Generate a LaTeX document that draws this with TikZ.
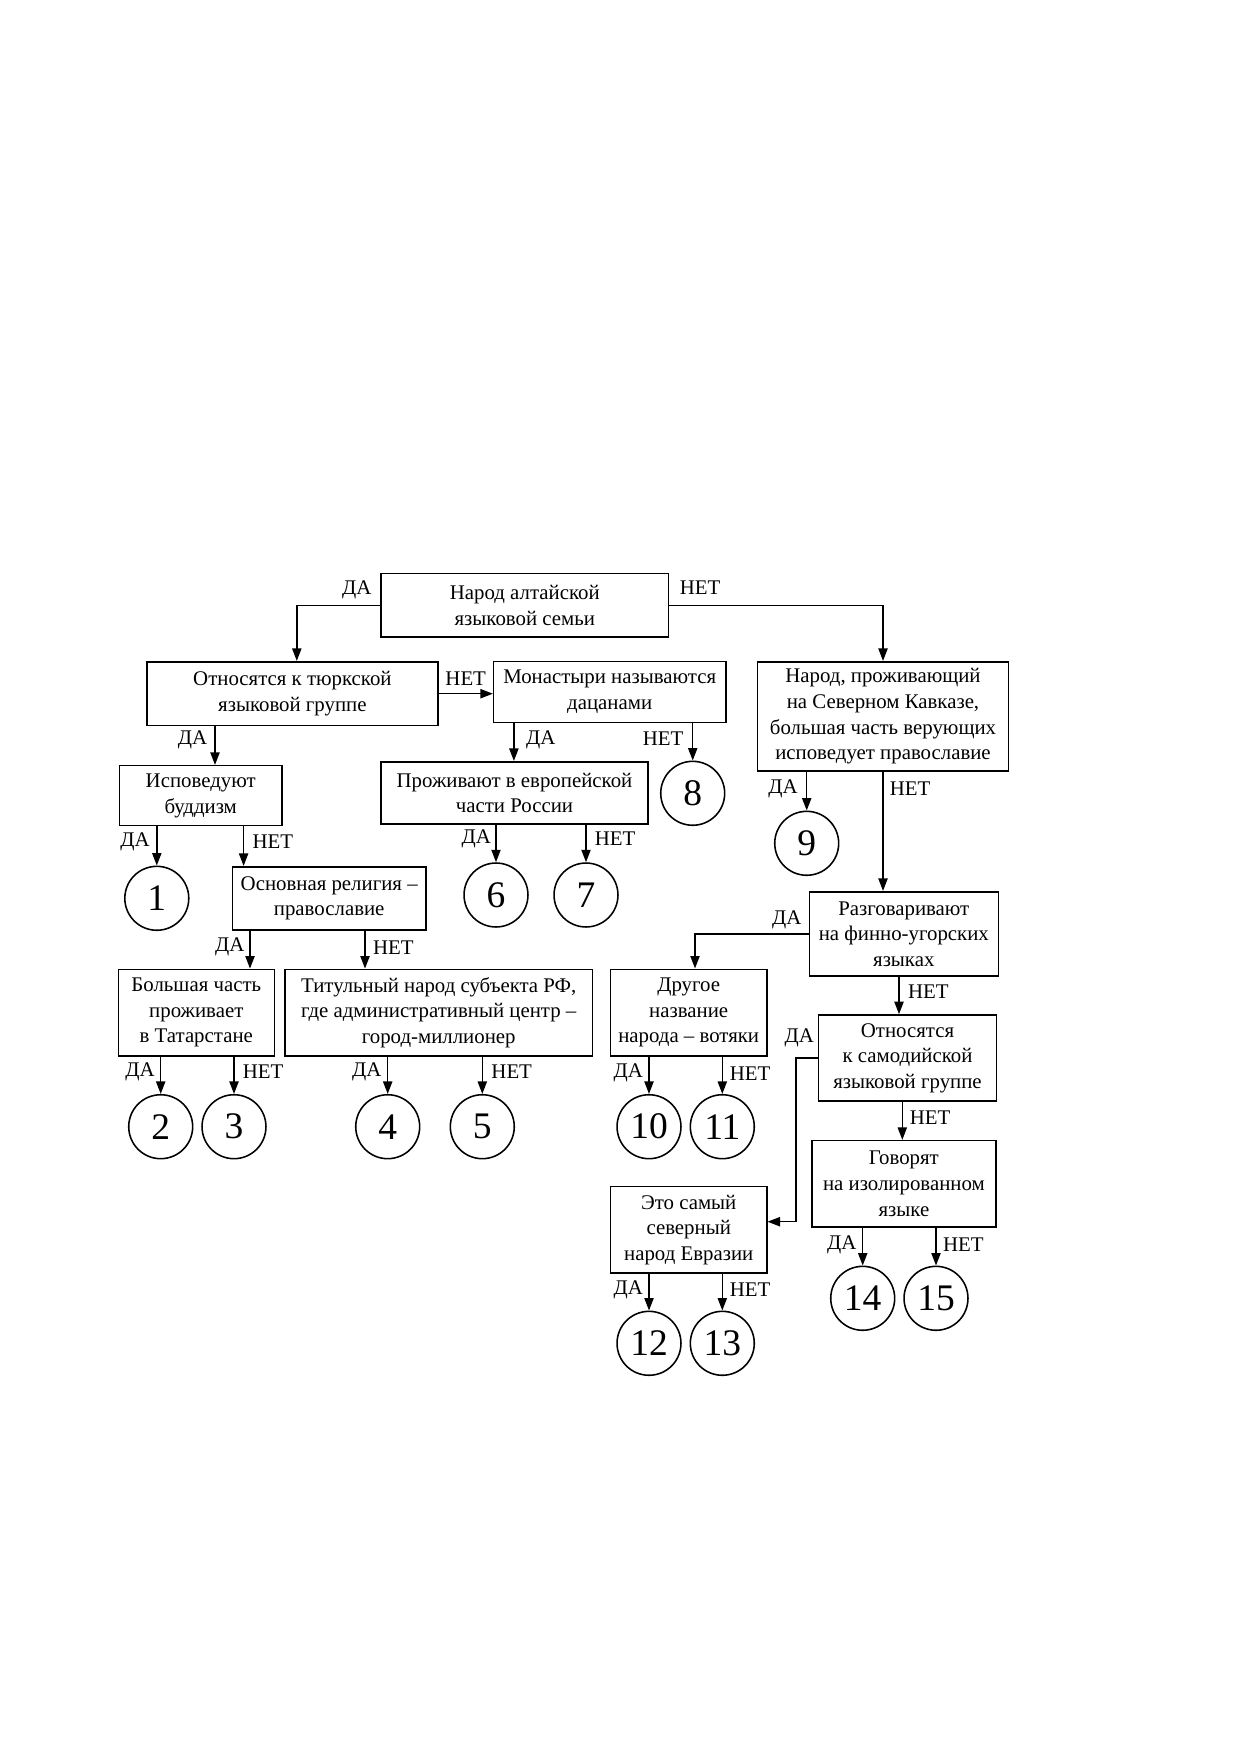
\documentclass[tikz,border=0pt]{standalone}
\usepackage{fontspec}
\setmainfont{Liberation Serif}
\usetikzlibrary{arrows.meta}
\begin{document}
\begin{tikzpicture}[x=0.48006pt,y=-0.48006pt,
  box/.style={draw,line width=0.75pt,align=center,inner sep=1pt,font=\fontsize{10}{12.3}\selectfont},
  num/.style={draw,circle,line width=0.75pt,minimum size=30.7pt,inner sep=0pt,font=\fontsize{18}{18}\selectfont},
  lab/.style={inner sep=0pt,font=\fontsize{10}{12}\selectfont},
  arr/.style={line width=0.75pt,-{Triangle[length=6pt,width=4.4pt]}}]
\fill[white] (0,0) rectangle (1240,1754);
\useasboundingbox (0,0) rectangle (1240,1754);

% boxes
\node[box,minimum width=138pt,minimum height=30.4pt] (A) at (524.8,605.3) {Народ алтайской\\языковой семьи};
\node[box,minimum width=139.7pt,minimum height=30.7pt] (B) at (292.4,693.7) {Относятся к тюркской\\языковой группе};
\node[box,minimum width=111.4pt,minimum height=29.1pt] (C) at (609.7,692) {Монастыри называются\\дацанами};
\node[box,minimum width=120.3pt,minimum height=52.5pt] (D) at (883,716.4) {Народ, проживающий\\на Северном Кавказе,\\большая часть верующих\\исповедует православие};
\node[box,minimum width=77.9pt,minimum height=28.8pt] (E) at (200.7,795.7) {Исповедуют\\буддизм};
\node[box,minimum width=128.1pt,minimum height=30pt] (F) at (514.5,793) {Проживают в европейской\\части России};
\node[box,minimum width=93pt,minimum height=30.4pt] (G) at (329.2,898.4) {Основная религия –\\православие};
\node[box,minimum width=74.9pt,minimum height=41.6pt] (H) at (196.3,1012.7) {Большая часть\\проживает\\в Татарстане};
\node[box,minimum width=147.5pt,minimum height=41.6pt] (I) at (438.7,1012.7) {Титульный народ субъекта РФ,\\где административный центр –\\город-миллионер};
\node[box,minimum width=90.7pt,minimum height=40.5pt] (J) at (903.8,933.9) {Разговаривают\\на финно-угорских\\языках};
\node[box,minimum width=74.9pt,minimum height=41.5pt] (K) at (688.7,1012.5) {Другое\\название\\народа – вотяки};
\node[box,minimum width=85.6pt,minimum height=41.3pt] (L) at (907.5,1058) {Относятся\\к самодийской\\языковой группе};
\node[box,minimum width=88.5pt,minimum height=41.3pt] (M) at (903.9,1183.7) {Говорят\\на изолированном\\языке};
\node[box,minimum width=74.9pt,minimum height=41.3pt] (N) at (688.7,1229.7) {Это самый\\северный\\народ Евразии};

% circles
\node[num] (c1) at (156.8,898.3) {1};
\node[num] (c2) at (160.7,1126.7) {2};
\node[num] (c3) at (234,1126.7) {3};
\node[num] (c4) at (387.7,1126.7) {4};
\node[num] (c5) at (482.3,1126.7) {5};
\node[num] (c6) at (496,895) {6};
\node[num] (c7) at (586,895) {7};
\node[num] (c8) at (692.7,793.3) {8};
\node[num] (c9) at (806.7,843.3) {9};
\node[num] (c10) at (649,1126.7) {10};
\node[num] (c11) at (722.3,1126.7) {11};
\node[num] (c12) at (649,1343.3) {12};
\node[num] (c13) at (722.3,1343.3) {13};
\node[num] (c14) at (862.7,1298.3) {14};
\node[num] (c15) at (936,1298.3) {15};

\coordinate (lbend) at (796,1221.7);

% connectors
\draw[arr] (A.west) -| (B.north -| 296.8,0);
\draw[arr] (A.east) -| (D.north);
\draw[arr] (B.east) -- (C.west |- B.east);
\draw[arr] (B.south -| 215,0) -- (E.north -| 215,0);
\draw[arr] (C.south -| 513.9,0) -- (F.north -| 513.9,0);
\draw[arr] (C.south -| c8) -- (c8.north);
\draw[arr] (D.south -| c9) -- (c9.north);
\draw[arr] (D.south) -- (J.north -| D.south);
\draw[arr] (E.south -| c1) -- (c1.north);
\draw[arr] (E.south -| 243.6,0) -- (G.north -| 243.6,0);
\draw[arr] (F.south -| c6) -- (c6.north);
\draw[arr] (F.south -| c7) -- (c7.north);
\draw[arr] (G.south -| 250,0) -- (H.north -| 250,0);
\draw[arr] (G.south -| 365,0) -- (I.north -| 365,0);
\draw[arr] (H.south -| c2) -- (c2.north);
\draw[arr] (H.south -| c3) -- (c3.north);
\draw[arr] (I.south -| c4) -- (c4.north);
\draw[arr] (I.south -| c5) -- (c5.north);
\draw[arr] (J.west) -| (K.north -| 695,0);
\draw[arr] (J.south -| 899,0) -- (L.north -| 899,0);
\draw[arr] (K.south -| c10) -- (c10.north);
\draw[arr] (K.south -| c11) -- (c11.north);
\draw[arr] (L.west) -| (lbend) -- (N.east |- lbend);
\draw[arr] (L.south -| 902.3,0) -- (M.north -| 902.3,0);
\draw[arr] (M.south -| c14) -- (c14.north);
\draw[arr] (M.south -| c15) -- (c15.north);
\draw[arr] (N.south -| c12) -- (c12.north);
\draw[arr] (N.south -| c13) -- (c13.north);

% labels
\node[lab] (lA1) at (356.8,590) {ДА};
\node[lab] (lA2) at (700,588) {НЕТ};
\node[lab] (lB1) at (465.7,679) {НЕТ};
\node[lab] (lB2) at (192.5,740) {ДА};
\node[lab] (lC1) at (540.7,740) {ДА};
\node[lab] (lC2) at (663,739) {НЕТ};
\node[lab] (lD1) at (783,789) {ДА};
\node[lab] (lD2) at (910,789) {НЕТ};
\node[lab] (lE1) at (135,842) {ДА};
\node[lab] (lE2) at (272.8,842) {НЕТ};
\node[lab] (lF1) at (476.3,838.6) {ДА};
\node[lab] (lF2) at (615,838.6) {НЕТ};
\node[lab] (lG1) at (229.7,947.3) {ДА};
\node[lab] (lG2) at (393.3,947.3) {НЕТ};
\node[lab] (lH1) at (140,1071.7) {ДА};
\node[lab] (lH2) at (263,1071.7) {НЕТ};
\node[lab] (lI1) at (366.7,1071.7) {ДА};
\node[lab] (lI2) at (511.7,1071.7) {НЕТ};
\node[lab] (lJ1) at (786.7,920) {ДА};
\node[lab] (lJ2) at (928.3,991.7) {НЕТ};
\node[lab] (lK1) at (628.3,1073.3) {ДА};
\node[lab] (lK2) at (750,1073.3) {НЕТ};
\node[lab] (lL1) at (799.3,1038.3) {ДА};
\node[lab] (lL2) at (930,1117.3) {НЕТ};
\node[lab] (lM1) at (841.7,1245) {ДА};
\node[lab] (lM2) at (963.3,1245) {НЕТ};
\node[lab] (lN1) at (628.3,1290) {ДА};
\node[lab] (lN2) at (750,1290) {НЕТ};
\end{tikzpicture}
\end{document}
